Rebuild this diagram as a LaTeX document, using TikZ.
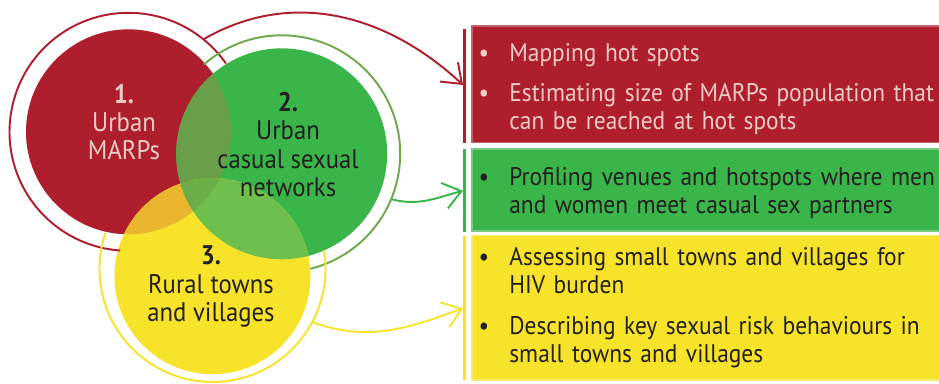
\documentclass[tikz,border=0pt]{standalone}
\usepackage{fontspec}
\setmainfont[FakeStretch=0.92]{PT Sans}
\usetikzlibrary{arrows.meta,positioning}
\definecolor{mred}{HTML}{AE1E2D}
\definecolor{mgreen}{HTML}{3AB54A}
\definecolor{myellow}{HTML}{F7E32A}
\definecolor{mpink}{HTML}{EDCDC6}
\definecolor{mdark}{HTML}{231F20}
\definecolor{ringgreen}{HTML}{6EA84B}
\definecolor{ovrg}{HTML}{6A9F4A}
\definecolor{ovry}{HTML}{EAB62F}
\definecolor{ovgy}{HTML}{6FBF4C}
\definecolor{ovall}{HTML}{6BAE47}
\tikzset{
	ring/.style={line width=1.1pt},
	conn/.style={line width=1.1pt, -{Straight Barb[length=10pt,width=15pt,line width=1.1pt]}},
	bar/.style={line width=1.9pt},
	lbl/.style={align=center, inner sep=0pt, font=\fontsize{15.3}{16.1}\selectfont},
	item/.style={anchor=base west, align=left, inner sep=0pt, text width=9.5cm, font=\fontsize{14.5}{16.1}\selectfont},
	bul/.style={anchor=base, inner sep=0pt, font=\fontsize{14.5}{16.1}\selectfont},
}

\begin{document}
\begin{tikzpicture}[x=0.02cm, y=0.02cm]
		%%%%% START %%%%%
		\clip (0, 0) rectangle (939, 383);
		
		\coordinate (c1) at (128.5, 251.2);
		\coordinate (c2) at (281.7, 229.2);
		\coordinate (c3) at (212.5, 106.8);
		\coordinate (c3r) at (212.5, 114);
		
		% circles
		\fill[mred] (c1) circle (102.5);
		\fill[mgreen] (c2) circle (105.5);
		\fill[myellow] (c3) circle (98);
		\begin{scope}
			\clip (c1) circle (102.5);
			\fill[ovrg] (c2) circle (105.5);
			\fill[ovry] (c3) circle (98);
		\end{scope}
		\begin{scope}
			\clip (c2) circle (105.5);
			\fill[ovgy] (c3) circle (98);
			\clip (c1) circle (102.5);
			\fill[ovall] (c3) circle (98);
		\end{scope}
		
		% rings
		\draw[ring, mred] (c1) ++(35:119) arc (35:266:119);
		\draw[ring, ringgreen] (c2) ++(131:118.5) arc (131:-76:118.5);
		\draw[ring, myellow] (c3r) ++(9.6:113) arc (9.6:-198.5:113);
		
		\node[lbl, text=mpink] (t1) at (124, 261) {\textbf{1.}\\Urban\\MARPs};
		\node[lbl, text=mdark] (t2) at (288, 238.3) {\textbf{2.}\\Urban\\casual sexual\\networks};
		\node[lbl, text=mdark] (t3) at (211, 96.3) {\textbf{3.}\\Rural towns\\and villages};
		
		% boxes
		\draw[mred!70!white, line width=0.6pt, fill=mred] (472, 240.3) rectangle (945, 357);
		\draw[mgreen!70!white, line width=0.6pt, fill=mgreen] (472, 152) rectangle (945, 234);
		\draw[myellow!70!white, line width=0.6pt, fill=myellow] (472, 3) rectangle (945, 147.7);
		\draw[bar, mred] (464.5, 354) -- (464.5, 240.3);
		\draw[bar, mgreen] (464.5, 234) -- (464.5, 151.3);
		\draw[bar, myellow] (464.5, 147) -- (464.5, 3);
		
		% arrows
		\path (c1) ++(51:119) coordinate (a1);
		\path (c2) ++(-22.5:118.5) coordinate (a2);
		\path (c3r) ++(-28:113) coordinate (a3);
		\coordinate (e1) at (463, 298);
		\coordinate (e2) at (463, 192.3);
		\coordinate (e3) at (463, 74.7);
		\draw[conn, mred] (a1) to[out=30, in=137] (e1);
		\draw[conn, mgreen] (a2) to[out=-15, in=195] (e2);
		\draw[conn, myellow] (a3) to[out=-20, in=200] (e3);
		
		% items
		\node[item, text=mpink] (m1) at (509, 321.3) {Mapping hot spots};
		\node[item, text=mpink] (m2) at (509, 282) {Estimating size of MARPs population that\\can be reached at hot spots};
		\node[item, text=mdark] (g1) at (509, 198) {Profiling venues and hotspots where men\\and women meet casual sex partners};
		\node[item, text=mdark] (y1) at (509, 117.3) {Assessing small towns and villages for\\HIV burden};
		\node[item, text=mdark] (y2) at (509, 48.7) {Describing key sexual risk behaviours in\\small towns and villages};
		\node[bul, text=mpink] (bm1) at (484, 321.3) {\textbullet};
		\node[bul, text=mpink] (bm2) at (484, 282) {\textbullet};
		\node[bul, text=mdark] (bg1) at (484, 198) {\textbullet};
		\node[bul, text=mdark] (by1) at (484, 117.3) {\textbullet};
		\node[bul, text=mdark] (by2) at (484, 48.7) {\textbullet};
		
		%%%%% END %%%%%
	\end{tikzpicture}
\end{document}
